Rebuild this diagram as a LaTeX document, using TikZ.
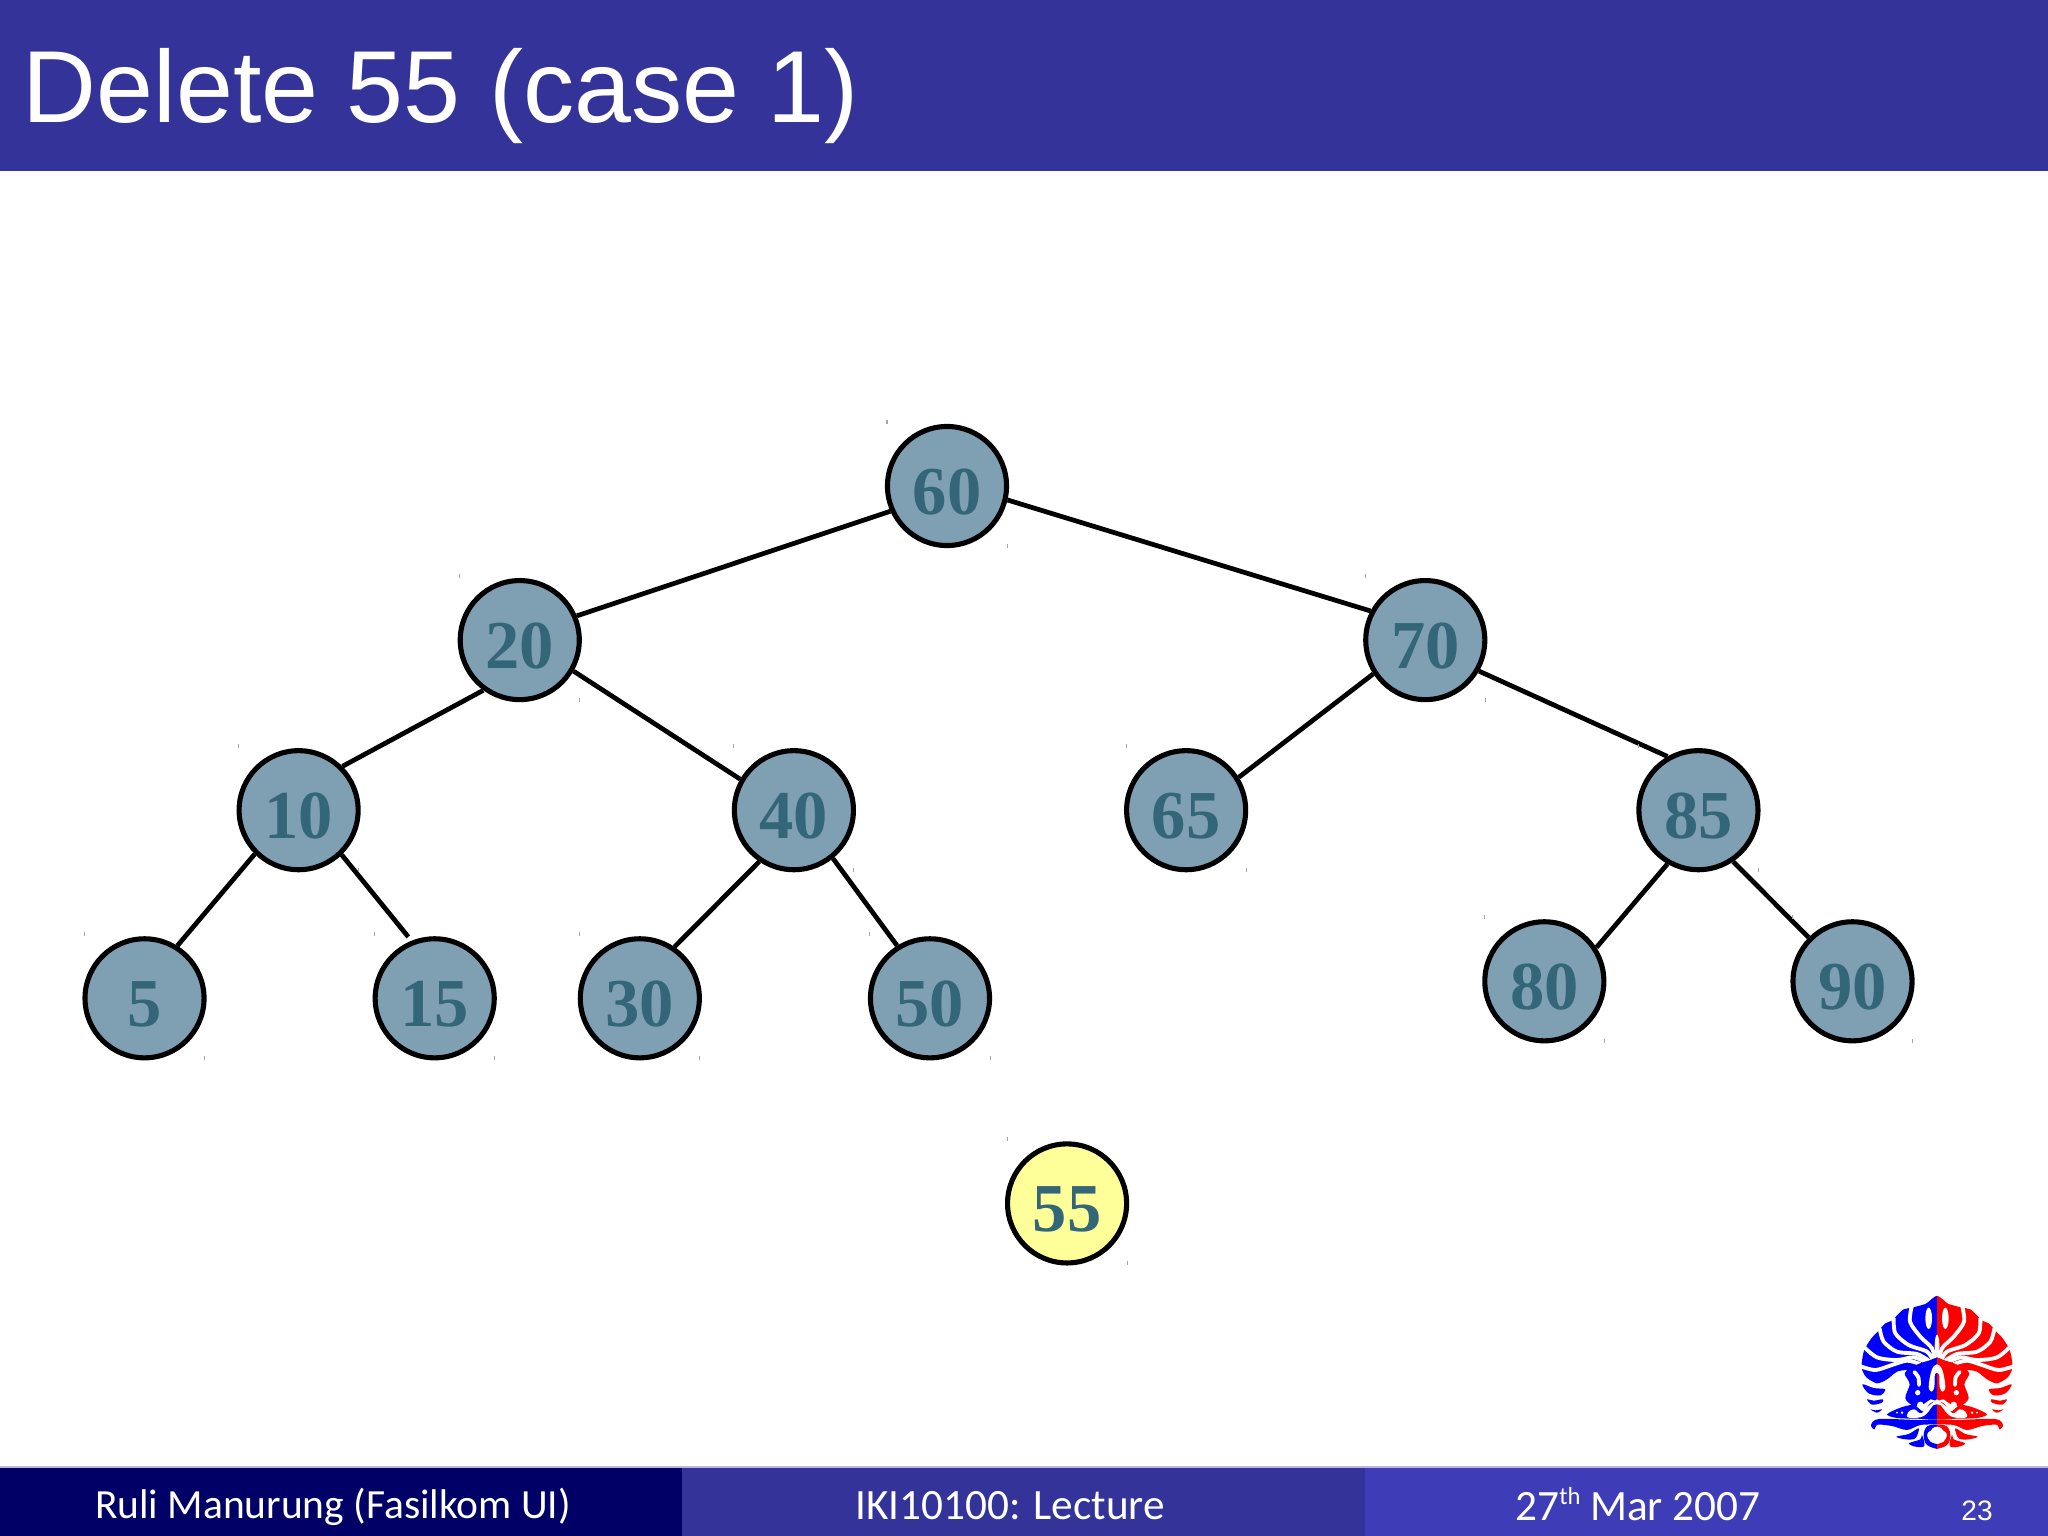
\documentclass[tikz,border=0pt]{standalone}
\usepackage{fontspec}
\usepackage{xcolor}
\setmainfont{Liberation Sans}
\newfontfamily\footfont{Carlito}
\newfontfamily\keyfont{Liberation Serif}
\usepackage{tikz}
\usetikzlibrary{positioning}
\definecolor{slidebar}{HTML}{333399}
\definecolor{footdark}{HTML}{000066}
\definecolor{footlight}{HTML}{3F3CB8}
\definecolor{keyfill}{HTML}{7F9FB3}
\definecolor{keytext}{HTML}{336677}
\definecolor{keyhigh}{HTML}{FFFF99}
\tikzset{cut/.style={white, line width=1.1pt, line cap=round}}
\newcommand{\logohalf}{%
	%% fan of petals as one shape
	\fill plot[smooth cycle, tension=.45] coordinates {(8,86) (-35,102) (-75,113) (-100,118) (-122,138) (-135,152) (-155,160) (-176,183) (-197,205) (-217,237) (-224,265) (-226,295) (-212,322) (-180,340) (-150,328) (-120,305) (-90,300) (-40,300) (8,300)};
	%% cuts between the petals
	\draw[cut] plot[smooth] coordinates {(-75,106) (-81,155) (-50,200) (-15,235) (-6,275)};
	\draw[cut] plot[smooth] coordinates {(-130,145) (-125,190) (-85,225) (-30,245) (-10,275)};
	\draw[cut] plot[smooth] coordinates {(-172,176) (-160,215) (-120,245) (-60,252) (-20,275)};
	\draw[cut] plot[smooth] coordinates {(-222,228) (-180,262) (-120,270) (-70,262) (-30,278)};
	\draw[cut] plot[smooth] coordinates {(-232,288) (-185,300) (-135,285) (-90,272) (-50,282)};
	\fill[white] (-25,145) ellipse (10 and 32);
	%% lower petals on the left
	\fill plot[smooth cycle, tension=.55] coordinates {(-224,343) (-205,370) (-170,376) (-156,358) (-190,354)};
	\fill plot[smooth cycle, tension=.55] coordinates {(-210,388) (-195,404) (-165,398) (-163,388) (-190,392)};
	\fill plot[smooth cycle, tension=.55] coordinates {(-200,418) (-180,428) (-165,418) (-185,421)};
	%% face, with the curled eye
	\fill plot[smooth cycle, tension=.5] coordinates {(-62,285) (-25,272) (8,270) (8,385) (-20,388) (-40,402) (-70,408) (-95,385) (-82,345) (-88,328) (-97,312) (-85,296) (-70,300)};
	\draw[cut] plot[smooth] coordinates {(-68,306) (-56,322) (-54,345)};
	\fill[white] (-58,368) circle (8);
	\fill[white] (-50,405) circle (10);
	%% wing and wave
	\fill plot[smooth cycle, tension=.5] coordinates {(-150,433) (-110,413) (-70,405) (-40,425) (-20,400) (8,395) (8,446) (-60,446) (-120,444)};
	\fill[white] plot[smooth cycle, tension=.6] coordinates {(-88,442) (-85,425) (-68,418) (-48,430) (-25,408) (0,388) (8,385) (8,402) (-10,405) (-30,430) (-50,442)};
	\fill[white] (-105,428) circle (4);
	\fill[white] (-120,428) circle (3);
	%% lower band and lower petals
	\fill plot[smooth cycle, tension=.5] coordinates {(-198,465) (-188,478) (-178,464) (-135,468) (-90,480) (-50,465) (8,462) (8,450) (-60,450) (-175,447)};
	\fill plot[smooth cycle, tension=.55] coordinates {(-122,500) (-85,492) (-55,475) (-65,505) (-95,508)};
	\fill plot[smooth cycle, tension=.55] coordinates {(-84,520) (-50,508) (-45,495) (-38,528) (-65,530)};
	\fill plot[smooth cycle, tension=.6] coordinates {(8,465) (-28,468) (-40,495) (-30,525) (8,538) (8,526) (-20,515) (-30,495) (-20,482) (8,478)};
}
\begin{document}
\begin{tikzpicture}[
	x=0.01cm, y=-0.01cm,
	%% Bars
	bar/.style={rectangle, draw=none, anchor=north west, inner sep=0pt, outer sep=0pt, minimum height=0.68cm},
	foottext/.style={font=\footfont\fontsize{12.3pt}{14pt}\selectfont, text=white, inner sep=0pt},
	%% Tree nodes
	keynode/.style={circle, draw=black, line width=1.45pt, fill=keyfill, minimum size=1.19cm, inner sep=0pt,
		text=keytext, font=\keyfont\bfseries\fontsize{19.5pt}{22pt}\selectfont,
		text height=16pt, text depth=0pt},
	newnode/.style={keynode, fill=keyhigh},
	lnk/.style={black, line width=1.35pt},
	tickmark/.style={gray!70, line width=0.3pt},
	]

	\useasboundingbox (0,0) rectangle (2048,1536);
	\fill[white] (0,0) rectangle (2048,1536);

	%% Title bar
	\node[bar, fill=slidebar, minimum width=20.48cm, minimum height=1.71cm] (titlebar) at (0,0) {};
	\node[anchor=base west, inner sep=0pt, text=white, font=\fontsize{29.1pt}{32pt}\selectfont] (title) at (22,122) {Delete 55 (case 1)};

	%% Tree, top to bottom
	\node[keynode] (n60) at (947,486) {60};
	\begin{scope}[on grid]
	\node[keynode, below left=1.54cm and 4.27cm of n60]  (n20) {20};
	\node[keynode, below right=1.54cm and 4.78cm of n60] (n70) {70};
	\node[keynode, below left=1.70cm and 2.21cm of n20]  (n10) {10};
	\node[keynode, below right=1.70cm and 2.74cm of n20] (n40) {40};
	\node[keynode, below left=1.70cm and 2.39cm of n70]  (n65) {65};
	\node[keynode, below right=1.70cm and 2.73cm of n70] (n85) {85};
	\node[keynode, below left=1.88cm and 1.54cm of n10]  (n5)  {5};
	\node[keynode, below right=1.88cm and 1.36cm of n10] (n15) {15};
	\node[keynode, below left=1.88cm and 1.54cm of n40]  (n30) {30};
	\node[keynode, below right=1.88cm and 1.36cm of n40] (n50) {50};
	\node[keynode, below left=1.71cm and 1.54cm of n85]  (n80) {80};
	\node[keynode, below right=1.71cm and 1.54cm of n85] (n90) {90};
	\node[newnode, below right=2.05cm and 1.37cm of n50] (n55) {55};
	\end{scope}

	%% Connectors
	\draw[lnk] (n60.204) -- (n20.23);
	\draw[lnk] (n60.347) -- (n70.152);
	\draw[lnk] (n20.234) -- (n10.45);
	\draw[lnk] (n20.330) -- (n40.150);
	\draw[lnk] (n70.213) -- (n65.32);
	\draw[lnk] (n70.330) -- (n85.120);
	\draw[lnk] (n10.225) -- (n5.58);
	\draw[lnk, shorten >=0.05cm] (n10.314) -- (n15.112);
	\draw[lnk] (n40.236) -- (n30.56);
	\draw[lnk] (n40.309) -- (n50.122);
	\draw[lnk] (n85.240) -- (n80.33);
	\draw[lnk] (n85.304) -- (n90.135);

	%% Small marks at the corners of each node
	\foreach \n in {n60,n20,n70,n10,n40,n65,n85,n5,n15,n30,n50,n80,n90,n55} {
		\draw[tickmark] ([xshift=-0.60cm,yshift=0.62cm]\n.center) -- ++(0,-4);
		\draw[tickmark] ([xshift=0.60cm,yshift=-0.58cm]\n.center) -- ++(0,4);
	}

	%% Logo
	\begin{scope}[shift={(1937,1270)}, scale=0.3333]
		\begin{scope}
			\clip (-260,60) rectangle (0,560);
			\begin{scope}[blue]\logohalf\end{scope}
		\end{scope}
		\begin{scope}[xscale=-1]
			\clip (-260,60) rectangle (0,560);
			\begin{scope}[red]\logohalf\end{scope}
		\end{scope}
		\fill[white] (0,228) ellipse (7 and 34);
		\fill[white] plot[smooth cycle, tension=.6] coordinates {(0,283) (-16,300) (-25,350) (-16,365) (-8,350) (-6,312) (6,312) (8,350) (16,365) (25,350) (16,300)};
		\fill[white] (0,490) circle (20);
	\end{scope}

	%% Footer
	\fill[slidebar!35] (0,1466) rectangle (2048,1468);
	\node[bar, fill=footdark, minimum width=6.83cm]  (footleft)  at (0,1468) {};
	\node[bar, fill=slidebar, minimum width=6.83cm]  (footmid)   at (682,1468) {};
	\node[bar, fill=footlight, minimum width=6.83cm] (footright) at (1365,1468) {};
	\node[foottext, font=\footfont\fontsize{11.8pt}{14pt}\selectfont] (author) at (333,1507) {Ruli Manurung (Fasilkom UI)};
	\node[foottext] (course) at (1010,1506) {IKI10100: Lecture};
	\node[foottext] (date)   at (1638,1504) {27\raisebox{4.5pt}{\fontsize{7pt}{8pt}\selectfont th} Mar 2007};
	\node[foottext, font=\fontsize{8pt}{10pt}\selectfont] (page) at (1977,1511) {23};
\end{tikzpicture}
\end{document}
